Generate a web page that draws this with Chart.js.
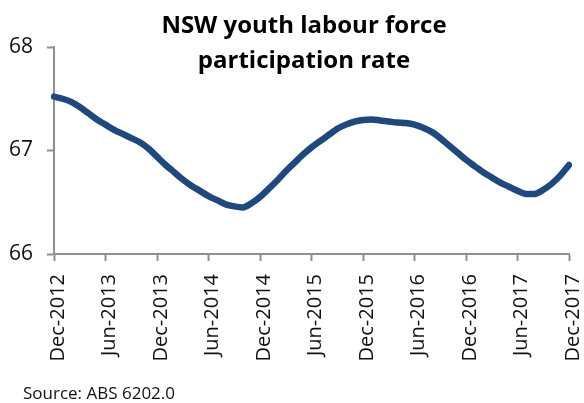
<!DOCTYPE html>
<html>
<head>
<meta charset="utf-8">
<script src="https://cdn.jsdelivr.net/npm/chart.js@4/dist/chart.umd.min.js"></script>
<style>
  body { margin: 0; background: #fff; }
  #wrap { position: relative; width: 584px; height: 403px; font-family: "Open Sans", sans-serif; }
  #chart { position: absolute; left: 0; top: 0; }
  #title { position: absolute; left: 104px; top: 6px; width: 400px; text-align: center;
           font-weight: bold; font-size: 24px; line-height: 35px; color: #000; }
  #source { position: absolute; left: 23px; top: 383px; font-size: 17px; line-height: 20px; color: #111; }
</style>
</head>
<body>
<div id="wrap">
  <canvas id="chart" width="584" height="403"></canvas>
  <div id="title">NSW youth labour force<br>participation rate</div>
  <div id="source">Source: ABS 6202.0</div>
</div>
<script>
// months Dec-2012 .. Dec-2017
const months = [
  "Dec-2012",
  "Jan-2013","Feb-2013","Mar-2013","Apr-2013","May-2013","Jun-2013","Jul-2013","Aug-2013","Sep-2013","Oct-2013","Nov-2013","Dec-2013",
  "Jan-2014","Feb-2014","Mar-2014","Apr-2014","May-2014","Jun-2014","Jul-2014","Aug-2014","Sep-2014","Oct-2014","Nov-2014","Dec-2014",
  "Jan-2015","Feb-2015","Mar-2015","Apr-2015","May-2015","Jun-2015","Jul-2015","Aug-2015","Sep-2015","Oct-2015","Nov-2015","Dec-2015",
  "Jan-2016","Feb-2016","Mar-2016","Apr-2016","May-2016","Jun-2016","Jul-2016","Aug-2016","Sep-2016","Oct-2016","Nov-2016","Dec-2016",
  "Jan-2017","Feb-2017","Mar-2017","Apr-2017","May-2017","Jun-2017","Jul-2017","Aug-2017","Sep-2017","Oct-2017","Nov-2017","Dec-2017"
];

// participation rate, %
const participation = [
  67.52,
  67.50, 67.47, 67.42, 67.36, 67.30, 67.25, 67.20, 67.16, 67.12, 67.08, 67.02, 66.94,
  66.86, 66.79, 66.72, 66.66, 66.61, 66.56, 66.52, 66.48, 66.46, 66.45, 66.49, 66.55,
  66.63, 66.71, 66.80, 66.88, 66.96, 67.03, 67.09, 67.15, 67.21, 67.25, 67.28, 67.295,
  67.30, 67.29, 67.28, 67.27, 67.265, 67.25, 67.22, 67.18, 67.12, 67.05, 66.98, 66.91,
  66.85, 66.79, 66.74, 66.69, 66.65, 66.61, 66.58, 66.58, 66.62, 66.68, 66.76, 66.86
];

const tickLabels = ["Dec-2012","Jun-2013","Dec-2013","Jun-2014","Dec-2014","Jun-2015",
  "Dec-2015","Jun-2016","Dec-2016","Jun-2017","Dec-2017"];

const yTicks = [66, 67, 68];

const axisGrey = '#8f8f8f';

const ctx = document.getElementById('chart').getContext('2d');
new Chart(ctx, {
  type: 'line',
  data: {
    labels: months,
    datasets: [{
      label: 'NSW youth labour force participation rate',
      data: participation,
      borderColor: '#1f497d',
      borderWidth: 6.5,
      borderCapStyle: 'round',
      borderJoinStyle: 'round',
      pointRadius: 0,
      cubicInterpolationMode: 'monotone',
      fill: false
    }]
  },
  options: {
    responsive: false,
    animation: false,
    layout: { padding: { top: 47, right: 15, bottom: 29, left: 0 } },
    plugins: {
      legend: { display: false },
      tooltip: { enabled: false }
    },
    scales: {
      x: {
        offset: false,
        afterFit: s => { s.height = 120; s.paddingLeft = 0; s.paddingRight = 0; },
        border: { color: axisGrey, width: 2 },
        grid: {
          drawOnChartArea: false,
          tickLength: 7,
          tickWidth: 2,
          tickColor: c => tickLabels.includes(months[c.index]) ? axisGrey : 'rgba(0,0,0,0)'
        },
        ticks: {
          autoSkip: false,
          minRotation: 90,
          maxRotation: 90,
          padding: 13,
          labelOffset: 4,
          color: '#111',
          font: { family: 'Open Sans', size: 20 },
          callback: (v, i) => tickLabels.includes(months[i]) ? months[i] : ''
        }
      },
      y: {
        min: yTicks[0],
        max: yTicks[yTicks.length - 1],
        afterFit: s => { s.width = 54; },
        afterBuildTicks: s => { s.ticks = yTicks.map(v => ({ value: v })); },
        border: { color: axisGrey, width: 2 },
        grid: {
          drawOnChartArea: false,
          tickLength: 7,
          tickWidth: 2,
          tickColor: axisGrey
        },
        ticks: {
          padding: 14,
          color: '#111',
          font: { family: 'Open Sans', size: 21 }
        }
      }
    }
  }
});
</script>
</body>
</html>
